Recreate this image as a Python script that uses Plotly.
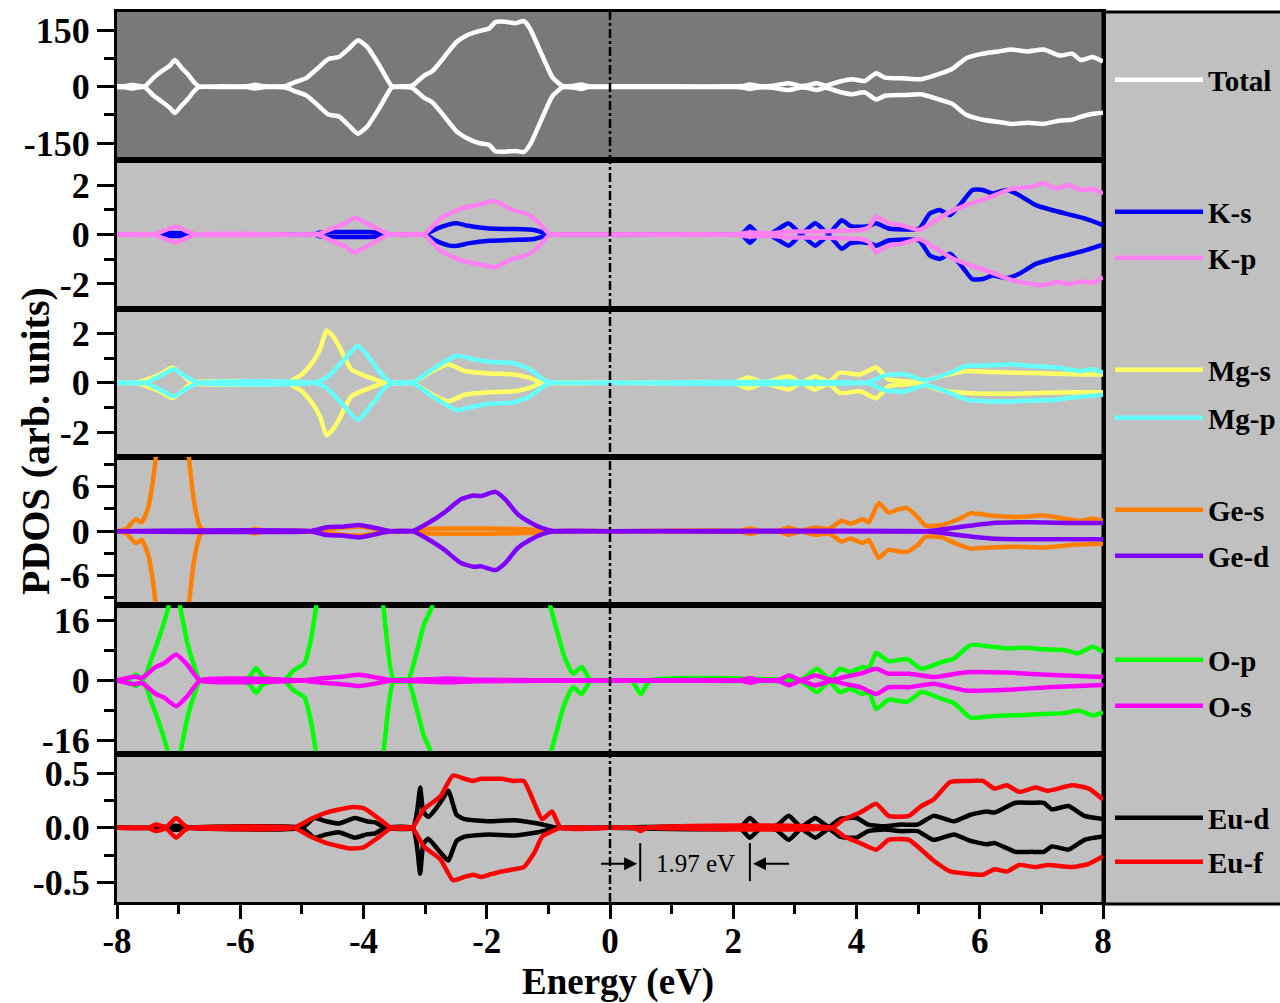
import plotly.graph_objects as go

# ---------------- data ----------------
E_tot = [-8.00, -7.85, -7.75, -7.65, -7.55, -7.40, -7.27, -7.15, -7.06, -6.95,
         -6.85, -6.75, -6.67, -6.30, -5.90, -5.76, -5.60, -5.26, -5.13, -4.93,
         -4.73, -4.57, -4.40, -4.24, -4.09, -3.94, -3.74, -3.54, -3.40, -3.21,
         -3.02, -2.88, -2.69, -2.49, -2.32, -2.13, -1.96, -1.86, -1.70, -1.53,
         -1.40, -1.30, -1.10, -0.93, -0.77, -0.60, -0.47, -0.35, 0.00, 1.00,
         2.00, 2.15, 2.27, 2.40, 2.60, 2.90, 3.10, 3.20, 3.35, 3.50,
         3.73, 3.93, 4.13, 4.32, 4.46, 4.79, 5.05, 5.38, 5.55, 5.78,
         6.05, 6.31, 6.51, 6.78, 7.04, 7.30, 7.50, 7.64, 7.83, 8.00]
up_tot = [1, 2, 5, 2, 1, 25, 42, 55, 71, 50,
          33, 12, 1, 1, 1, 5, 1, 2, 11, 23,
          51, 74, 79, 101, 124, 106, 56, 2, 1, 3,
          29, 42, 79, 119, 137, 148, 155, 172, 173, 169,
          175, 155, 83, 24, 2, 2, 6, 1, 1, 1,
          1, 2, 6, 2, 2, 9, 2, 3, 9, 3,
          14, 20, 15, 36, 24, 22, 20, 36, 47, 76,
          88, 94, 99, 94, 99, 83, 88, 71, 79, 67]
dn_tot = [-1, -2, -5, -2, -1, -25, -40, -55, -70, -50,
          -33, -12, -1, -1, -1, -5, -1, -2, -11, -23,
          -51, -74, -79, -103, -125, -106, -56, -2, -1, -3,
          -29, -42, -79, -119, -137, -150, -155, -172, -173, -171,
          -174, -155, -83, -24, -2, -2, -6, -1, -1, -1,
          -1, -2, -6, -2, -2, -9, -2, -3, -9, -3,
          -14, -20, -15, -34, -24, -22, -20, -36, -45, -75,
          -88, -94, -99, -96, -99, -90, -88, -80, -72, -69]

E_ks = [-8.00, -7.40, -7.27, -7.06, -6.88, -6.80, -5.00, -4.80, -4.70, -4.40,
        -4.14, -3.90, -3.70, -3.60, -3.30, -3.02, -2.80, -2.62, -2.49, -2.30,
        -1.96, -1.56, -1.23, -1.00, -0.90, 0.00, 2.00, 2.15, 2.27, 2.40,
        2.60, 2.90, 3.10, 3.33, 3.55, 3.76, 3.90, 4.06, 4.20, 4.32,
        4.52, 4.85, 5.02, 5.19, 5.35, 5.52, 5.72, 5.88, 6.05, 6.21,
        6.44, 6.64, 6.91, 7.17, 7.50, 7.70, 8.00]
up_ks = [0.00, 0.00, 0.05, 0.06, 0.05, 0.00, 0.00, 0.00, 0.08, 0.10,
         0.10, 0.10, 0.06, 0.00, 0.00, 0.00, 0.25, 0.40, 0.45, 0.35,
         0.24, 0.22, 0.18, 0.02, 0.00, 0.00, 0.00, 0.03, 0.33, 0.03,
         0.03, 0.45, 0.03, 0.45, 0.05, 0.58, 0.35, 0.31, 0.35, 0.45,
         0.24, 0.20, 0.24, 0.85, 0.99, 0.78, 1.32, 1.80, 1.80, 1.66,
         1.80, 1.59, 1.19, 0.99, 0.78, 0.65, 0.38]
dn_ks = [0.00, 0.00, -0.05, -0.06, -0.05, 0.00, 0.00, 0.00, -0.08, -0.10,
         -0.10, -0.10, -0.06, 0.00, 0.00, 0.00, -0.28, -0.44, -0.46, -0.36,
         -0.25, -0.22, -0.18, -0.02, 0.00, 0.00, 0.00, -0.03, -0.33, -0.03,
         -0.03, -0.45, -0.03, -0.45, -0.05, -0.58, -0.35, -0.31, -0.35, -0.45,
         -0.24, -0.20, -0.24, -0.85, -0.99, -0.78, -1.32, -1.81, -1.80, -1.66,
         -1.76, -1.59, -1.19, -0.99, -0.78, -0.65, -0.41]

E_kp = [-8.00, -7.40, -7.25, -7.04, -6.85, -6.70, -5.00, -4.73, -4.50, -4.30,
        -4.14, -3.95, -3.75, -3.58, -3.30, -3.02, -2.75, -2.42, -2.16, -1.86,
        -1.59, -1.36, -1.17, -0.97, -0.80, 0.00, 2.00, 2.27, 2.60, 2.90,
        3.33, 3.76, 4.06, 4.20, 4.32, 4.52, 4.72, 5.02, 5.25, 5.52,
        5.78, 6.11, 6.51, 6.84, 7.04, 7.24, 7.44, 7.64, 7.83, 8.00]
up_kp = [0.00, 0.00, 0.15, 0.31, 0.12, 0.00, 0.00, 0.02, 0.25, 0.45,
         0.68, 0.45, 0.20, 0.00, 0.00, 0.00, 0.65, 1.05, 1.19, 1.35,
         0.99, 0.85, 0.51, 0.00, 0.00, 0.00, 0.00, 0.08, 0.05, 0.12,
         0.12, 0.15, 0.18, 0.30, 0.72, 0.45, 0.38, 0.18, 0.51, 0.92,
         1.19, 1.46, 1.84, 1.93, 2.07, 1.86, 2.00, 1.80, 1.84, 1.66]
dn_kp = [0.00, 0.00, -0.15, -0.31, -0.12, 0.00, 0.00, -0.02, -0.27, -0.48,
         -0.73, -0.48, -0.20, 0.00, 0.00, 0.00, -0.65, -1.05, -1.19, -1.31,
         -0.99, -0.85, -0.51, 0.00, 0.00, 0.00, 0.00, -0.08, -0.05, -0.12,
         -0.12, -0.15, -0.18, -0.30, -0.72, -0.45, -0.38, -0.18, -0.51, -0.92,
         -1.19, -1.46, -1.84, -2.00, -2.05, -1.92, -2.00, -1.90, -1.95, -1.72]

E_mgs = [-8.00, -7.70, -7.50, -7.30, -7.10, -6.95, -6.78, -5.26, -5.00, -4.83,
         -4.70, -4.60, -4.50, -4.40, -4.20, -3.94, -3.64, -3.21, -2.88, -2.62,
         -2.36, -1.96, -1.56, -1.30, -1.10, 0.00, 2.00, 2.24, 2.50, 2.90,
         3.10, 3.33, 3.55, 3.73, 4.06, 4.32, 4.52, 4.79, 5.00, 5.38,
         5.78, 6.18, 6.58, 7.10, 7.64, 8.00]
up_mgs = [0.00, 0.00, 0.15, 0.35, 0.62, 0.35, 0.00, 0.00, 0.34, 0.82,
          1.40, 2.12, 1.90, 1.50, 0.55, 0.25, 0.00, 0.00, 0.48, 0.75,
          0.48, 0.38, 0.34, 0.20, 0.00, 0.00, 0.00, 0.22, 0.02, 0.27,
          0.02, 0.27, 0.05, 0.41, 0.34, 0.62, 0.14, 0.07, 0.02, 0.27,
          0.48, 0.44, 0.41, 0.38, 0.34, 0.34]
dn_mgs = [0.00, 0.00, -0.15, -0.35, -0.62, -0.35, 0.00, 0.00, -0.34, -0.82,
          -1.40, -2.12, -1.90, -1.50, -0.55, -0.25, 0.00, 0.00, -0.48, -0.75,
          -0.48, -0.38, -0.34, -0.20, 0.00, 0.00, 0.00, -0.22, -0.02, -0.27,
          -0.02, -0.27, -0.05, -0.41, -0.34, -0.62, -0.14, -0.07, -0.02, -0.30,
          -0.41, -0.44, -0.44, -0.40, -0.38, -0.38]

E_mgp = [-8.00, -7.54, -7.30, -7.08, -6.90, -6.68, -4.80, -4.60, -4.33, -4.09,
         -3.87, -3.68, -3.54, -3.21, -2.88, -2.49, -2.22, -1.96, -1.56, -1.30,
         -1.04, -0.90, 0.00, 4.19, 4.46, 4.79, 5.12, 5.52, 5.78, 6.18,
         6.51, 6.84, 7.24, 7.64, 7.83, 8.00]
up_mgp = [0.00, 0.00, 0.28, 0.55, 0.28, 0.00, 0.00, 0.20, 0.89, 1.50,
          0.89, 0.27, 0.00, 0.00, 0.55, 1.10, 0.96, 0.85, 0.79, 0.55,
          0.07, 0.00, 0.00, 0.02, 0.30, 0.34, 0.10, 0.41, 0.68, 0.71,
          0.75, 0.68, 0.62, 0.48, 0.55, 0.41]
dn_mgp = [0.00, 0.00, -0.28, -0.55, -0.28, 0.00, 0.00, -0.20, -0.89, -1.50,
          -0.89, -0.27, 0.00, 0.00, -0.55, -1.10, -0.96, -0.85, -0.79, -0.55,
          -0.07, 0.00, 0.00, -0.02, -0.30, -0.34, -0.10, -0.41, -0.68, -0.75,
          -0.75, -0.72, -0.68, -0.55, -0.52, -0.48]

E_ges = [-8.00, -7.85, -7.70, -7.60, -7.50, -7.45, -7.37, -7.25, -7.05, -6.92,
         -6.84, -6.75, -6.65, -6.55, -5.90, -5.76, -5.60, -4.80, -4.50, -4.07,
         -3.80, -3.60, -3.21, -3.00, -2.50, -2.00, -1.50, -1.17, -1.05, 0.00,
         2.10, 2.27, 2.45, 2.75, 2.90, 3.10, 3.33, 3.55, 3.76, 3.90,
         4.10, 4.20, 4.36, 4.52, 4.66, 4.82, 4.99, 5.12, 5.38, 5.65,
         5.85, 6.18, 6.58, 7.04, 7.44, 7.64, 7.83, 8.00]
up_ges = [0.00, 0.30, 1.60, 1.20, 3.00, 5.00, 10.0, 22.0, 28.0, 18.0,
          10.5, 4.00, 0.50, 0.00, 0.00, 0.30, 0.00, 0.00, 0.35, 0.60,
          0.30, 0.00, 0.00, 0.30, 0.35, 0.35, 0.30, 0.20, 0.00, 0.00,
          0.00, 0.40, 0.00, 0.10, 0.50, 0.05, 0.50, 0.30, 1.40, 1.00,
          1.60, 1.20, 3.80, 2.50, 2.90, 3.10, 1.90, 0.75, 0.84, 1.60,
          2.40, 2.10, 1.90, 2.10, 1.60, 1.40, 1.70, 1.40]
dn_ges = [0.00, -0.30, -1.60, -1.20, -3.00, -5.00, -10.0, -22.0, -28.0, -18.0,
          -10.5, -4.00, -0.50, 0.00, 0.00, -0.30, 0.00, 0.00, -0.35, -0.60,
          -0.30, 0.00, 0.00, -0.30, -0.35, -0.35, -0.30, -0.20, 0.00, 0.00,
          0.00, -0.40, 0.00, -0.10, -0.50, -0.05, -0.50, -0.30, -1.40, -1.00,
          -1.60, -1.20, -3.60, -2.50, -2.70, -2.80, -1.90, -0.75, -0.84, -1.80,
          -2.35, -2.20, -2.10, -2.20, -1.90, -1.80, -1.75, -1.70]

E_ged = [-8.00, -4.86, -4.60, -4.35, -4.07, -3.85, -3.68, -3.55, -3.21, -2.95,
         -2.69, -2.42, -2.22, -2.09, -1.86, -1.70, -1.50, -1.30, -1.10, -0.90,
         0.00, 5.12, 5.40, 5.65, 6.18, 6.84, 7.50, 8.00]
up_ged = [0.00, 0.00, 0.53, 0.60, 0.84, 0.50, 0.20, 0.00, 0.00, 1.10,
          2.50, 4.30, 4.80, 4.75, 5.30, 4.30, 2.30, 1.20, 0.40, 0.00,
          0.00, 0.00, 0.25, 0.53, 1.07, 1.20, 1.10, 1.10]
dn_ged = [0.00, 0.00, -0.53, -0.60, -0.84, -0.50, -0.20, 0.00, 0.00, -1.10,
          -2.50, -4.30, -4.80, -4.75, -5.25, -4.30, -2.30, -1.20, -0.40, 0.00,
          0.00, 0.00, -0.25, -0.53, -1.00, -1.10, -1.10, -1.10]

E_op = [-8.00, -7.80, -7.70, -7.57, -7.44, -7.31, -7.17, -7.07, -6.98, -6.85,
        -6.75, -6.65, -6.00, -5.85, -5.74, -5.63, -5.30, -5.13, -4.96, -4.86,
        -4.77, -4.60, -4.20, -3.85, -3.68, -3.51, -3.28, -3.15, -3.02, -2.88,
        -2.60, -2.00, -1.40, -1.10, -0.97, -0.84, -0.74, -0.60, -0.46, -0.31,
        0.00, 0.35, 0.50, 0.65, 3.00, 3.13, 3.36, 3.56, 3.73, 3.90,
        4.10, 4.20, 4.32, 4.52, 4.82, 5.06, 5.38, 5.58, 5.85, 6.18,
        6.44, 6.71, 7.04, 7.37, 7.60, 7.83, 8.00]
up_op = [0.0, 0.5, 1.5, 0.4, 5.8, 11.7, 19.3, 28.0, 20.0, 9.4,
         4.0, 0.0, 0.0, 1.0, 3.3, 1.0, 0.0, 2.7, 4.5, 10.3,
         19.3, 40.0, 60.0, 40.0, 20.0, 0.0, 0.0, 6.7, 14.8, 20.0,
         45.0, 60.0, 60.0, 35.0, 20.0, 12.0, 6.3, 1.8, 3.6, 0.0,
         0.0, 0.0, 0.0, 0.0, 0.0, 0.5, 3.1, 0.3, 3.1, 2.2,
         3.6, 3.1, 7.4, 5.1, 5.7, 3.1, 4.9, 5.8, 9.4, 9.0,
         8.5, 8.7, 8.3, 8.1, 7.2, 9.0, 7.6]
dn_op = [0.0, -0.5, -1.5, -0.4, -5.8, -11.7, -19.3, -28.0, -20.0, -9.4,
         -4.0, 0.0, 0.0, -1.0, -3.3, -1.0, 0.0, -2.7, -4.5, -10.3,
         -19.3, -40.0, -60.0, -40.0, -20.0, 0.0, 0.0, -6.7, -14.8, -20.0,
         -45.0, -60.0, -60.0, -35.0, -20.0, -12.0, -6.3, -1.8, -3.6, 0.0,
         0.0, 0.0, -3.7, 0.0, 0.0, -0.5, -3.1, -0.3, -3.1, -2.2,
         -3.6, -3.1, -7.6, -5.1, -5.7, -3.1, -4.9, -6.0, -9.9, -9.5,
         -9.3, -9.2, -8.9, -8.7, -8.0, -9.3, -8.5]

E_os = [-8.00, -7.80, -7.70, -7.60, -7.54, -7.37, -7.24, -7.04, -6.85, -6.65,
        -5.00, -4.67, -4.35, -4.07, -3.80, -3.54, -3.00, -2.62, -2.20, 0.00,
        2.10, 2.27, 2.45, 2.75, 2.90, 3.10, 3.33, 3.60, 3.80, 4.06,
        4.32, 4.52, 4.85, 5.25, 5.78, 6.44, 7.10, 8.00]
up_os = [0.0, 0.8, 1.0, 0.6, 1.3, 3.6, 4.5, 6.9, 4.0, 0.0,
         0.0, 0.6, 1.0, 1.5, 0.8, 0.0, 0.3, 0.5, 0.2, 0.0,
         0.0, 0.6, 0.0, 0.2, 1.3, 0.1, 1.3, 0.1, 0.9, 1.8,
         3.1, 1.8, 1.8, 0.9, 2.2, 2.1, 1.5, 0.9]
dn_os = [0.0, -0.8, -1.0, -0.6, -1.3, -3.6, -4.5, -6.9, -4.0, 0.0,
         0.0, -0.6, -1.0, -1.5, -0.8, 0.0, -0.3, -0.5, -0.2, 0.0,
         0.0, -0.6, 0.0, -0.2, -1.3, -0.1, -1.3, -0.1, -0.9, -1.8,
         -3.6, -1.8, -1.8, -0.9, -2.7, -2.5, -1.8, -1.2]

E_eud = [-8.00, -7.30, -7.05, -6.85, -5.00, -4.80, -4.60, -4.40, -4.14, -3.95,
         -3.81, -3.65, -3.20, -3.13, -3.08, -3.03, -2.95, -2.82, -2.70, -2.62,
         -2.55, -2.49, -2.36, -1.96, -1.56, -1.17, -0.84, 0.00, 2.10, 2.27,
         2.45, 2.70, 2.90, 3.10, 3.33, 3.55, 3.73, 4.00, 4.19, 4.46,
         4.72, 4.99, 5.25, 5.58, 5.85, 6.11, 6.24, 6.58, 6.84, 7.04,
         7.17, 7.44, 7.70, 8.00]
up_eud = [0.00, 0.00, 0.02, 0.00, 0.00, 0.09, 0.06, 0.04, 0.09, 0.06,
          0.05, 0.00, 0.00, 0.15, 0.37, 0.15, 0.10, 0.18, 0.28, 0.34,
          0.22, 0.12, 0.08, 0.06, 0.07, 0.04, 0.00, 0.00, 0.00, 0.09,
          0.00, 0.02, 0.11, 0.01, 0.09, 0.01, 0.08, 0.09, 0.03, 0.015,
          0.03, 0.03, 0.11, 0.06, 0.12, 0.15, 0.14, 0.23, 0.23, 0.23,
          0.17, 0.20, 0.11, 0.08]
dn_eud = [0.00, 0.00, -0.02, 0.00, 0.00, -0.09, -0.06, -0.04, -0.09, -0.06,
          -0.05, 0.00, 0.00, -0.18, -0.42, -0.15, -0.10, -0.18, -0.26, -0.30,
          -0.20, -0.12, -0.08, -0.06, -0.07, -0.04, 0.00, 0.00, 0.00, -0.09,
          0.00, -0.02, -0.11, -0.01, -0.09, -0.01, -0.08, -0.09, -0.03, -0.015,
          -0.03, -0.03, -0.11, -0.06, -0.12, -0.15, -0.14, -0.22, -0.22, -0.22,
          -0.17, -0.20, -0.11, -0.08]

E_euf = [-8.00, -7.50, -7.37, -7.20, -7.04, -6.90, -6.80, -5.13, -4.86, -4.60,
         -4.20, -4.00, -3.74, -3.55, -3.21, -3.02, -2.75, -2.55, -2.36, -2.22,
         -2.09, -1.96, -1.76, -1.56, -1.40, -1.23, -1.10, -0.94, -0.80, 0.00,
         0.40, 0.50, 0.60, 3.60, 3.80, 4.06, 4.32, 4.52, 4.85, 5.05,
         5.25, 5.52, 5.78, 6.05, 6.24, 6.44, 6.64, 6.91, 7.10, 7.50,
         7.77, 8.00]
up_euf = [0.00, 0.00, 0.03, 0.01, 0.09, 0.02, 0.00, 0.00, 0.08, 0.14,
          0.19, 0.18, 0.08, 0.00, 0.00, 0.17, 0.29, 0.48, 0.45, 0.43,
          0.45, 0.45, 0.45, 0.43, 0.43, 0.23, 0.08, 0.15, 0.00, 0.00,
          0.00, 0.00, 0.00, 0.00, 0.08, 0.14, 0.22, 0.11, 0.11, 0.20,
          0.26, 0.42, 0.43, 0.43, 0.36, 0.39, 0.33, 0.37, 0.34, 0.39,
          0.36, 0.26]
dn_euf = [0.00, 0.00, -0.03, -0.01, -0.09, -0.02, 0.00, 0.00, -0.08, -0.14,
          -0.19, -0.18, -0.08, 0.00, 0.00, -0.17, -0.29, -0.48, -0.45, -0.43,
          -0.45, -0.43, -0.40, -0.38, -0.36, -0.23, -0.08, -0.03, 0.00, 0.00,
          0.00, -0.03, 0.00, 0.00, -0.08, -0.14, -0.20, -0.11, -0.11, -0.20,
          -0.30, -0.40, -0.42, -0.43, -0.38, -0.40, -0.34, -0.36, -0.34, -0.36,
          -0.33, -0.26]

x_tickvals = [-8, -6, -4, -2, 0, 2, 4, 6, 8]
x_ticktext = ["-8", "-6", "-4", "-2", "0", "2", "4", "6", "8"]
x_minor = [-7, -5, -3, -1, 1, 3, 5, 7]

y_ranges = [[-196, 199], [-3, 3], [-3, 3], [-10, 10], [-19.5, 20], [-0.68, 0.68]]
y_tickvals = [[-150, 0, 150], [-2, 0, 2], [-2, 0, 2], [-6, 0, 6], [-16, 0, 16], [-0.5, 0, 0.5]]
y_ticktext = [["-150", "0", "150"], ["-2", "0", "2"], ["-2", "0", "2"],
              ["-6", "0", "6"], ["-16", "0", "16"], ["-0.5", "0.0", "0.5"]]
y_minor = [[-75, 75], [-1, 1], [-1, 1], [-9, -3, 3, 9], [-8, 8], [-0.25, 0.25]]

gap_edges = [0.49, 2.27]
gap_label = "1.97 eV"

# ---------------- styling / layout ----------------
W, H = 1280, 1003
FONT = "Liberation Serif"
X0, X1 = 117 / W, 1103 / W
edges_px = [12, 160.3, 308.7, 457, 605.3, 753.7, 902]
doms = [[1 - edges_px[i + 1] / H, 1 - edges_px[i] / H] for i in range(6)]  # top -> bottom

series = [
    # (name, E, up, dn, panel, color, legend y px)
    ("Total", E_tot, up_tot, dn_tot, 1, "#FFFFFF", 80),
    ("K-s", E_ks, up_ks, dn_ks, 2, "#0000FF", 212),
    ("K-p", E_kp, up_kp, dn_kp, 2, "#FF80F0", 258),
    ("Mg-s", E_mgs, up_mgs, dn_mgs, 3, "#FFFF66", 370),
    ("Mg-p", E_mgp, up_mgp, dn_mgp, 3, "#66FFFF", 418),
    ("Ge-s", E_ges, up_ges, dn_ges, 4, "#FF8000", 510),
    ("Ge-d", E_ged, up_ged, dn_ged, 4, "#8000FF", 556),
    ("O-p", E_op, up_op, dn_op, 5, "#00FF00", 660),
    ("O-s", E_os, up_os, dn_os, 5, "#FF00FF", 706),
    ("Eu-d", E_eud, up_eud, dn_eud, 6, "#000000", 818),
    ("Eu-f", E_euf, up_euf, dn_euf, 6, "#FF0000", 862),
]

fig = go.Figure()
layout_legends = {}
for k, (name, E, up, dn, p, col, ly) in enumerate(series):
    lg = "legend" if k == 0 else f"legend{k + 1}"
    fig.add_trace(go.Scatter(
        x=list(E) + [None] + list(E), y=list(up) + [None] + list(dn),
        mode="lines", name=name, line=dict(color=col, width=4.5, shape="spline", smoothing=0.5),
        xaxis="x" if p == 1 else f"x{p}", yaxis="y" if p == 1 else f"y{p}",
        legend=lg, showlegend=True, connectgaps=False,
    ))
    layout_legends[lg] = dict(
        x=1110 / W, xanchor="left", y=1 - ly / H, yanchor="middle",
        bgcolor="rgba(0,0,0,0)", borderwidth=0, itemwidth=88,
        font=dict(family=FONT, size=29, color="black", weight="bold"),
        itemclick=False, itemdoubleclick=False,
    )

ytick_font = dict(family=FONT, size=36, color="black", weight="bold")
xtick_font = dict(family=FONT, size=35, color="black", weight="bold")
lay = dict(
    width=W, height=H, margin=dict(l=0, r=0, t=0, b=0, autoexpand=False),
    paper_bgcolor="white", plot_bgcolor="#C0C0C0",
    showlegend=True,
)
lay.update(layout_legends)
for p in range(1, 7):
    xs = "xaxis" if p == 1 else f"xaxis{p}"
    ys = "yaxis" if p == 1 else f"yaxis{p}"
    yref = "y" if p == 1 else f"y{p}"
    xref = "x" if p == 1 else f"x{p}"
    xa = dict(domain=[X0, X1], range=[-8, 8], anchor=yref, showgrid=False, zeroline=False,
              showline=True, mirror=True, linewidth=3, linecolor="black",
              fixedrange=True, automargin=False)
    if p == 6:
        xa.update(tickmode="array", tickvals=x_tickvals, ticktext=x_ticktext,
                  ticks="outside", ticklen=14, tickwidth=3, tickcolor="black",
                  tickfont=xtick_font, ticklabelstandoff=-8,
                  minor=dict(tickmode="array", tickvals=x_minor, ticks="outside",
                             ticklen=9, tickwidth=3, tickcolor="black"))
    else:
        xa.update(showticklabels=False, ticks="")
    i = p - 1
    ya = dict(domain=doms[i], range=y_ranges[i], anchor=xref, showgrid=False, zeroline=False,
              showline=True, mirror=True, linewidth=3, linecolor="black",
              tickmode="array", tickvals=y_tickvals[i], ticktext=y_ticktext[i],
              ticks="outside", ticklen=17, tickwidth=3, tickcolor="black",
              tickfont=ytick_font, fixedrange=True, automargin=False,
              minor=dict(tickmode="array", tickvals=y_minor[i], ticks="outside",
                         ticklen=10, tickwidth=3, tickcolor="black"))
    lay[xs] = xa
    lay[ys] = ya

shapes = [
    # dark background of Total panel
    dict(type="rect", xref="x domain", yref="y domain", x0=0, x1=1, y0=0, y1=1,
         fillcolor="#797979", line=dict(width=0), layer="below"),
    # legend panel
    dict(type="rect", xref="paper", yref="paper", x0=X1, x1=1.05,
         y0=1 - 904 / H, y1=1 - 12 / H, fillcolor="#C0C0C0",
         line=dict(color="black", width=3), layer="below"),
    # Fermi level
    dict(type="line", xref="x6", yref="paper", x0=0, x1=0,
         y0=doms[5][0], y1=doms[0][1], line=dict(color="black", width=2.5, dash="dashdot")),
    # gap markers
    dict(type="line", xref="x6", yref="y6", x0=gap_edges[0], x1=gap_edges[0], y0=-0.14, y1=-0.49,
         line=dict(color="black", width=2)),
    dict(type="line", xref="x6", yref="y6", x0=gap_edges[1], x1=gap_edges[1], y0=-0.14, y1=-0.49,
         line=dict(color="black", width=2)),
]
lay["shapes"] = shapes

ann = [
    dict(text="PDOS (arb. units)", xref="paper", yref="paper", x=35 / W, y=1 - 441 / H,
         textangle=-90, showarrow=False, xanchor="center", yanchor="middle",
         font=dict(family=FONT, size=40, color="black", weight="bold")),
    dict(text="Energy (eV)", xref="paper", yref="paper", x=618 / W, y=1 - 982 / H,
         showarrow=False, xanchor="center", yanchor="middle",
         font=dict(family=FONT, size=37, color="black", weight="bold")),
    dict(text=gap_label, xref="x6", yref="y6", x=(gap_edges[0] + gap_edges[1]) / 2, y=-0.33,
         showarrow=False, font=dict(family=FONT, size=25, color="black")),
    dict(text="", xref="x6", yref="y6", axref="x6", ayref="y6",
         x=gap_edges[0] - 0.05, y=-0.33, ax=gap_edges[0] - 0.66, ay=-0.33,
         showarrow=True, arrowhead=2, arrowsize=1.3, arrowwidth=2, arrowcolor="black"),
    dict(text="", xref="x6", yref="y6", axref="x6", ayref="y6",
         x=gap_edges[1] + 0.05, y=-0.33, ax=gap_edges[1] + 0.66, ay=-0.33,
         showarrow=True, arrowhead=2, arrowsize=1.3, arrowwidth=2, arrowcolor="black"),
]
lay["annotations"] = ann

fig.update_layout(**lay)
fig.write_html("out.html")
